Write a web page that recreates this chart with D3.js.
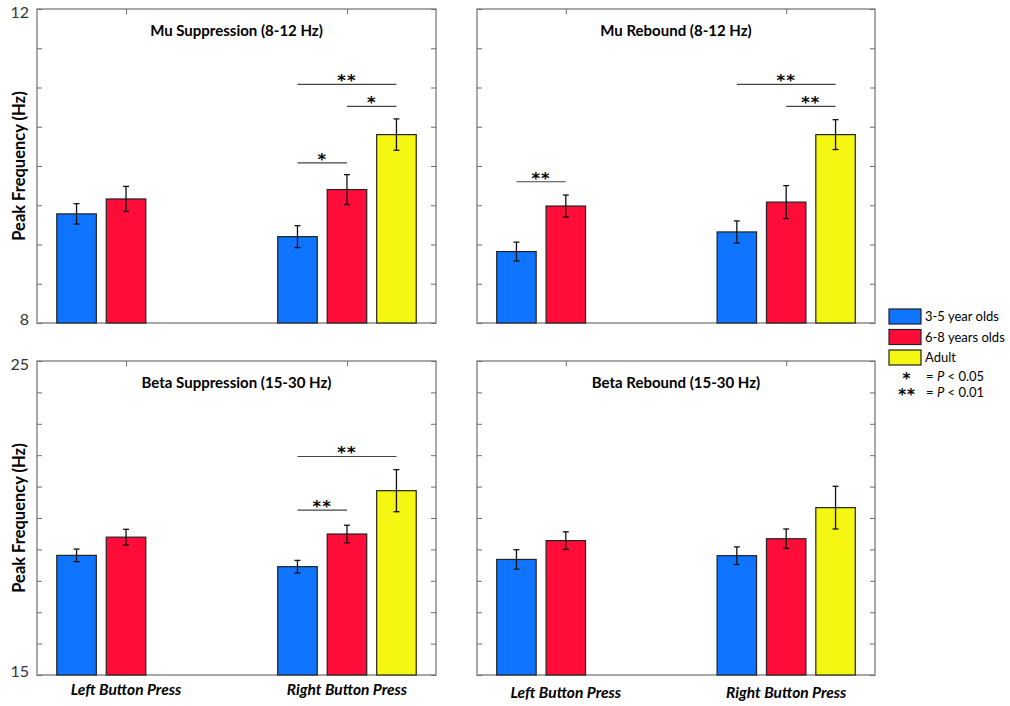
<!DOCTYPE html>
<html>
<head>
<meta charset="utf-8">
<script src="https://cdn.jsdelivr.net/npm/d3@7"></script>
<style>
  body { margin: 0; background: #fff; }
  text { font-family: Lato, "Noto Sans", sans-serif; }
  .star { font-family: "DejaVu Sans", sans-serif; font-weight: 700; }
</style>
</head>
<body>
<svg id="chart" width="1010" height="706"></svg>
<script>
// categories
const groups = ["Left Button Press", "Right Button Press"];
const ageGroups = ["3-5 year olds", "6-8 years olds", "Adult"];
const colors = ["#0f74ff", "#ff0d38", "#f6f613"];

// means [group][age], null = no bar
const muSuppMean = [[9.39, 9.58, null], [9.10, 9.70, 10.40]];
const muSuppErr = [[0.13, 0.16, null], [0.14, 0.19, 0.20]];
const muRebMean = [[8.91, 9.49, null], [9.16, 9.54, 10.40]];
const muRebErr = [[0.12, 0.14, null], [0.14, 0.21, 0.19]];
const betaSuppMean = [[18.81, 19.39, null], [18.45, 19.49, 20.87]];
const betaSuppErr = [[0.20, 0.25, null], [0.20, 0.28, 0.67]];
const betaRebMean = [[18.68, 19.28, null], [18.80, 19.34, 20.33]];
const betaRebErr = [[0.31, 0.28, null], [0.28, 0.31, 0.68]];

// significance brackets: group, from age, to age, height, label
const muSuppSig = [
  { g: 1, a: 0, b: 2, y: 11.04, label: "**" },
  { g: 1, a: 1, b: 2, y: 10.76, label: "*" },
  { g: 1, a: 0, b: 1, y: 10.04, label: "*" }
];
const muRebSig = [
  { g: 0, a: 0, b: 1, y: 9.80, label: "**" },
  { g: 1, a: 0, b: 2, y: 11.04, label: "**" },
  { g: 1, a: 1, b: 2, y: 10.76, label: "**" }
];
const betaSuppSig = [
  { g: 1, a: 0, b: 2, y: 21.96, label: "**" },
  { g: 1, a: 0, b: 1, y: 20.25, label: "**" }
];
const betaRebSig = [];

const muTicks = [8, 8.5, 9, 9.5, 10, 10.5, 11, 11.5, 12];
const betaTicks = [15, 16, 17, 18, 19, 20, 21, 22, 23, 24, 25];

const panels = [
  { title: "Mu Suppression (8-12 Hz)", mean: muSuppMean, err: muSuppErr, sig: muSuppSig,
    ticks: muTicks, x0: 37, x1: 436, y0: 9, y1: 323, labels: true, xlab: false },
  { title: "Mu Rebound (8-12 Hz)", mean: muRebMean, err: muRebErr, sig: muRebSig,
    ticks: muTicks, x0: 477, x1: 875, y0: 9, y1: 323, labels: false, xlab: false },
  { title: "Beta Suppression (15-30 Hz)", mean: betaSuppMean, err: betaSuppErr, sig: betaSuppSig,
    ticks: betaTicks, x0: 37, x1: 436, y0: 361, y1: 675, labels: true, xlab: true },
  { title: "Beta Rebound (15-30 Hz)", mean: betaRebMean, err: betaRebErr, sig: betaRebSig,
    ticks: betaTicks, x0: 477, x1: 875, y0: 361, y1: 675, labels: false, xlab: true }
];

const svg = d3.select("#chart");
const offset = 0.224, barW = 0.179;

panels.forEach(p => {
  const x = d3.scaleLinear().domain([0.597, 2.403]).range([p.x0, p.x1]);
  const y = d3.scaleLinear().domain(d3.extent(p.ticks)).range([p.y1, p.y0]);
  const g = svg.append("g");

  // frame
  g.append("rect")
    .attr("x", p.x0).attr("y", p.y0)
    .attr("width", p.x1 - p.x0).attr("height", p.y1 - p.y0)
    .attr("fill", "none").attr("stroke", "#6e6e6e").attr("stroke-width", 1.2);

  // y ticks, inner, both sides
  const fmt = d => (d === p.ticks[0] || d === p.ticks[p.ticks.length - 1]) ? d : "";
  const yl = g.append("g").attr("transform", `translate(${p.x0},0)`)
    .call(d3.axisLeft(y).tickValues(p.ticks).tickSizeInner(-5).tickSizeOuter(0)
      .tickPadding(8).tickFormat(p.labels ? fmt : () => ""));
  const yr = g.append("g").attr("transform", `translate(${p.x1},0)`)
    .call(d3.axisRight(y).tickValues(p.ticks).tickSizeInner(-5).tickSizeOuter(0)
      .tickFormat(() => ""));
  const xt = g.append("g").attr("transform", `translate(0,${p.y0})`)
    .call(d3.axisTop(x).tickValues([1, 2]).tickSizeInner(-5).tickSizeOuter(0).tickFormat(() => ""));
  [yl, yr, xt].forEach(a => {
    a.select(".domain").remove();
    a.selectAll("line").attr("stroke", "#6e6e6e");
  });
  yl.selectAll("text").attr("font-family", "'Liberation Sans', Arial, sans-serif")
    .attr("font-size", 16).attr("fill", "#333");
  yl.selectAll(".tick").filter(d => d === p.ticks[0]).select("text").attr("dy", "0.1em");
  yl.selectAll(".tick").filter(d => d === p.ticks[p.ticks.length - 1]).select("text").attr("dy", "0.55em");

  // bars
  const rows = [];
  p.mean.forEach((row, gi) => row.forEach((v, ai) => {
    if (v !== null) rows.push({ gi, ai, v, e: p.err[gi][ai] });
  }));
  const cx = d => x(d.gi + 1 + (d.ai - 1) * offset);
  g.selectAll("rect.bar").data(rows).join("rect").attr("class", "bar")
    .attr("x", d => cx(d) - (x(barW) - x(0)) / 2)
    .attr("width", x(barW) - x(0))
    .attr("y", d => y(d.v))
    .attr("height", d => y(p.ticks[0]) - y(d.v))
    .attr("fill", d => colors[d.ai])
    .attr("stroke", "#222").attr("stroke-width", 1.2);

  // error bars
  const eb = g.selectAll("g.err").data(rows).join("g").attr("class", "err")
    .attr("stroke", "#111").attr("stroke-width", 1.3);
  eb.append("line").attr("x1", cx).attr("x2", cx)
    .attr("y1", d => y(d.v - d.e)).attr("y2", d => y(d.v + d.e));
  [-1, 1].forEach(s => {
    eb.append("line").attr("x1", d => cx(d) - 3).attr("x2", d => cx(d) + 3)
      .attr("y1", d => y(d.v + s * d.e)).attr("y2", d => y(d.v + s * d.e));
  });

  // significance
  p.sig.forEach(s => {
    const xa = x(s.g + 1 + (s.a - 1) * offset), xb = x(s.g + 1 + (s.b - 1) * offset);
    g.append("line").attr("x1", xa).attr("x2", xb)
      .attr("y1", y(s.y)).attr("y2", y(s.y))
      .attr("stroke", "#444").attr("stroke-width", 1.1);
    g.append("text").attr("class", "star").attr("x", (xa + xb) / 2).attr("y", y(s.y) + 2)
      .attr("text-anchor", "middle").attr("font-size", 16.5).attr("letter-spacing", 1)
      .text(s.label);
  });

  // title
  g.append("text").attr("x", (p.x0 + p.x1) / 2).attr("y", p.y0 + 27)
    .attr("text-anchor", "middle").attr("font-size", 15).attr("font-weight", 700)
    .text(p.title);

  // y label
  if (p.labels) {
    g.append("text")
      .attr("transform", `translate(25,${(p.y0 + p.y1) / 2}) rotate(-90)`)
      .attr("text-anchor", "middle").attr("font-size", 16.5).attr("font-weight", 700)
      .text("Peak Frequency (Hz)");
  }

  // x labels
  if (p.xlab) {
    g.selectAll("text.xl").data(groups).join("text").attr("class", "xl")
      .attr("x", (d, i) => x(i + 1)).attr("y", p.y1 + (p.labels ? 20 : 23))
      .attr("text-anchor", "middle").attr("font-size", 15.5)
      .attr("font-style", "italic").attr("font-weight", 700)
      .text(d => d);
  }
});

// legend
const leg = svg.append("g").attr("transform", "translate(889,309)");
ageGroups.forEach((name, i) => {
  leg.append("rect").attr("x", 0).attr("y", i * 20.5).attr("width", 32).attr("height", 15)
    .attr("fill", colors[i]).attr("stroke", "#222").attr("stroke-width", 1.2);
  leg.append("text").attr("x", 36).attr("y", i * 20.5 + 12).attr("font-size", 13)
    .text(name);
});
const pNotes = [{ s: "*", v: "0.05" }, { s: "**", v: "0.01" }];
pNotes.forEach((n, i) => {
  const yy = 72 + i * 16;
  leg.append("text").attr("class", "star").attr("x", 18).attr("y", yy + 3)
    .attr("text-anchor", "middle").attr("font-size", 15).attr("letter-spacing", 1).text(n.s);
  const t = leg.append("text").attr("x", 37).attr("y", yy).attr("font-size", 13);
  t.append("tspan").text("= ");
  t.append("tspan").attr("font-style", "italic").text("P");
  t.append("tspan").text(" < " + n.v);
});
</script>
</body>
</html>
